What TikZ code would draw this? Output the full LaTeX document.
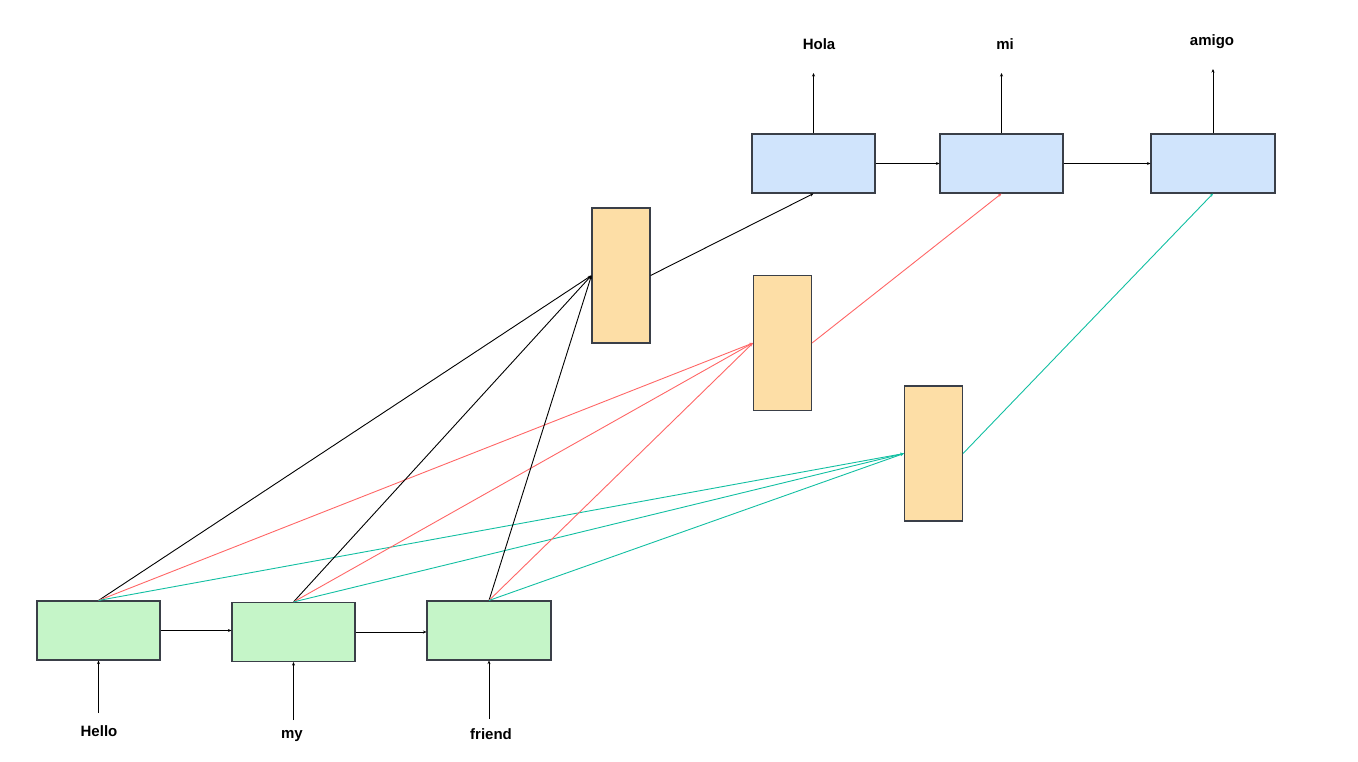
\documentclass[tikz,border=0pt]{standalone}
\usepackage{fontspec}
\setmainfont{Liberation Sans}
\usetikzlibrary{arrows.meta}
\definecolor{encfill}{HTML}{C5F5C8}
\definecolor{decfill}{HTML}{D0E4FC}
\definecolor{attfill}{HTML}{FDDEA6}
\definecolor{boxline}{HTML}{3A3F48}
\definecolor{redline}{HTML}{FF6666}
\definecolor{tealline}{HTML}{12BFA2}
\tikzset{
  box/.style={draw=boxline, line width=1.1pt, inner sep=0pt},
  encbox/.style={box, fill=encfill, minimum width=123pt, minimum height=59pt},
  decbox/.style={box, fill=decfill, minimum width=123pt, minimum height=59pt},
  attbox/.style={box, fill=attfill, minimum width=58pt, minimum height=135pt},
  word/.style={font=\fontsize{15}{18}\selectfont\bfseries, inner sep=0pt},
  conn/.style={line width=0.9pt, -{Stealth[length=3.5pt,width=3pt]}},
}
\begin{document}
\begin{tikzpicture}[x=1pt,y=-1pt]
\useasboundingbox (0,0) rectangle (1358,761);
% encoder
\node[encbox] (e1) at (98.5,630.5) {};
\node[encbox] (e2) at (293.5,632) {};
\node[encbox, minimum width=124pt] (e3) at (489,630.5) {};
% decoder
\node[decbox] (d1) at (813.5,163.5) {};
\node[decbox] (d2) at (1001.5,163.5) {};
\node[decbox, minimum width=124pt] (d3) at (1213,163.5) {};
% attention
\node[attbox] (a1) at (621,275.5) {};
\node[attbox] (a2) at (782.5,343) {};
\node[attbox] (a3) at (933.5,453.5) {};
% words
\node[word] (w1) at (99,731) {Hello};
\node[word] (w2) at (292,736) {my};
\node[word] (w3) at (491,734) {friend};
\node[word] (o1) at (819,44) {Hola};
\node[word] (o2) at (1005,44) {mi};
\node[word] (o3) at (1212,42) {amigo};
% free ends
\coordinate (i1) at (98.5,713);
\coordinate (i2) at (293.5,720);
\coordinate (i3) at (489,719);
\coordinate (t1) at (813.5,73);
\coordinate (t2) at (1001.5,73);
\coordinate (t3) at (1213,69);
% input arrows
\draw[conn] (i1) -- (e1.south);
\draw[conn] (i2) -- (e2.south);
\draw[conn] (i3) -- (e3.south);
% output arrows
\draw[conn] (d1.north) -- (t1);
\draw[conn] (d2.north) -- (t2);
\draw[conn] (d3.north) -- (t3);
% recurrent arrows
\draw[conn] (e1.east) -- (e2.west |- e1.east);
\draw[conn] (e2.east) -- (e3.west |- e2.east);
\draw[conn] (d1.east) -- (d2.west);
\draw[conn] (d2.east) -- (d3.west);
% attention inputs
\foreach \e in {e1,e2,e3}{
  \draw[conn, black] (\e.north) -- (a1.west);
  \draw[conn, redline] (\e.north) -- (a2.west);
  \draw[conn, tealline] (\e.north) -- (a3.west);
}
% attention outputs
\draw[conn, black] (a1.east) -- (d1.south);
\draw[conn, redline] (a2.east) -- (d2.south);
\draw[conn, tealline] (a3.east) -- (d3.south);
\end{tikzpicture}
\end{document}
